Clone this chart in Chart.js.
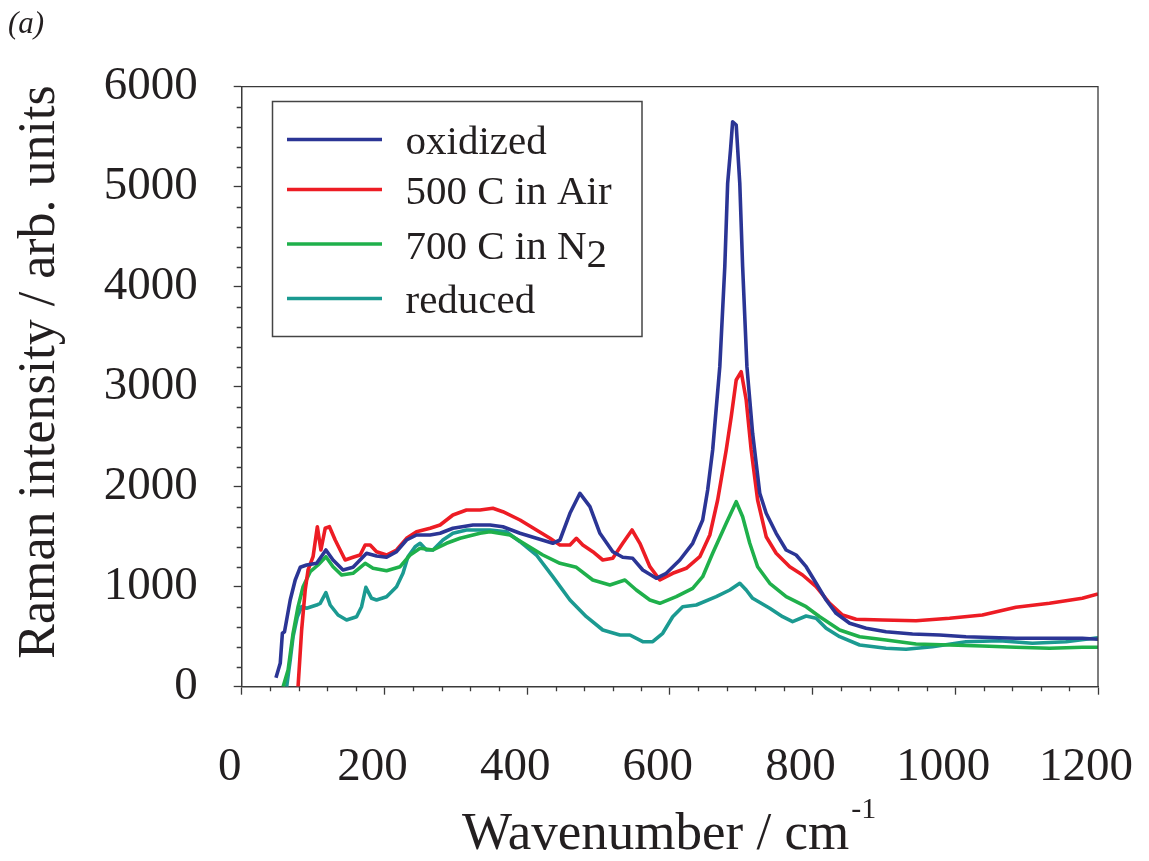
<!DOCTYPE html>
<html>
<head>
<meta charset="utf-8">
<script src="https://cdn.jsdelivr.net/npm/chart.js@4.4.1/dist/chart.umd.min.js"></script>
<style>
  html, body { margin: 0; padding: 0; background: #fff; }
  #wrap { width: 1149px; height: 861px; }
</style>
</head>
<body>
<div id="wrap"><canvas id="ramanChart" width="1149" height="861"></canvas></div>
<script>
// series names
const seriesNames = ["oxidized", "500 C in Air", "700 C in N2", "reduced"];

// oxidized
const oxidizedX = [48, 54, 57, 60, 68, 75, 82, 91, 105, 118, 128, 142, 156, 175, 189, 203, 217, 231, 245, 264, 278, 296, 324, 348, 366, 390, 413, 436, 446, 460, 474, 488, 502, 520, 534, 548, 562, 581, 595, 614, 632, 646, 653, 660, 670, 677, 681, 685, 688, 693, 698, 702, 708, 716, 726, 735, 749, 763, 777, 791, 805, 819, 833, 852, 875, 903, 940, 978, 1015, 1038, 1085, 1132, 1178, 1200];
const oxidizedY = [90, 234, 534, 550, 867, 1067, 1194, 1217, 1234, 1367, 1267, 1167, 1194, 1334, 1307, 1294, 1350, 1467, 1517, 1517, 1534, 1584, 1617, 1617, 1600, 1534, 1484, 1434, 1467, 1734, 1934, 1800, 1534, 1350, 1294, 1284, 1167, 1084, 1134, 1267, 1434, 1667, 1967, 2367, 3200, 4200, 5034, 5367, 5650, 5617, 5034, 4200, 3200, 2534, 1934, 1734, 1534, 1367, 1317, 1200, 1034, 867, 734, 634, 584, 550, 527, 517, 500, 494, 484, 484, 484, 474];

// 500 C in Air
const airX = [79, 84, 89, 93, 100, 106, 111, 117, 123, 131, 138, 145, 156, 166, 173, 180, 189, 203, 217, 231, 245, 264, 278, 296, 315, 334, 352, 366, 390, 413, 432, 446, 460, 469, 478, 492, 506, 520, 534, 547, 558, 572, 586, 604, 623, 642, 656, 667, 679, 686, 693, 700, 707, 714, 723, 735, 749, 768, 786, 805, 824, 842, 861, 898, 945, 992, 1038, 1085, 1132, 1178, 1200];
const airY = [0, 567, 967, 1167, 1300, 1600, 1367, 1584, 1600, 1467, 1367, 1267, 1294, 1317, 1417, 1417, 1350, 1317, 1367, 1484, 1550, 1584, 1617, 1717, 1767, 1767, 1784, 1750, 1667, 1567, 1484, 1417, 1417, 1484, 1417, 1350, 1267, 1284, 1434, 1567, 1434, 1200, 1067, 1134, 1184, 1300, 1517, 1867, 2367, 2700, 3067, 3150, 2867, 2367, 1867, 1500, 1334, 1200, 1117, 1000, 834, 717, 674, 667, 660, 684, 717, 794, 834, 884, 927];

// 700 C in N2
const n2X = [58, 65, 72, 79, 86, 96, 107, 118, 128, 140, 156, 173, 184, 203, 222, 236, 250, 268, 287, 306, 334, 348, 376, 399, 422, 446, 469, 492, 516, 537, 553, 572, 586, 609, 632, 646, 660, 679, 693, 702, 712, 723, 740, 763, 791, 810, 838, 866, 903, 945, 992, 1038, 1085, 1132, 1178, 1200];
const n2Y = [0, 167, 534, 800, 1000, 1150, 1217, 1300, 1200, 1117, 1134, 1234, 1184, 1160, 1200, 1317, 1384, 1367, 1434, 1484, 1534, 1550, 1517, 1417, 1317, 1234, 1194, 1067, 1017, 1067, 967, 867, 834, 900, 984, 1100, 1334, 1634, 1850, 1700, 1434, 1200, 1034, 900, 800, 700, 567, 500, 467, 427, 417, 407, 394, 384, 394, 394];

// reduced
const reducedX = [63, 68, 72, 78, 84, 91, 105, 110, 118, 124, 135, 147, 161, 168, 174, 182, 189, 203, 217, 226, 233, 243, 250, 259, 268, 282, 296, 315, 334, 348, 371, 390, 413, 436, 460, 483, 506, 530, 544, 562, 576, 590, 604, 618, 637, 665, 684, 698, 707, 716, 740, 758, 772, 791, 805, 819, 838, 866, 903, 931, 968, 1015, 1062, 1108, 1155, 1200];
const reducedY = [0, 267, 500, 700, 800, 784, 817, 834, 940, 817, 717, 667, 700, 800, 994, 884, 867, 900, 1000, 1134, 1300, 1400, 1434, 1367, 1367, 1467, 1534, 1567, 1567, 1567, 1550, 1450, 1317, 1100, 867, 700, 567, 517, 517, 450, 450, 534, 700, 800, 817, 900, 967, 1034, 967, 884, 784, 700, 650, 707, 684, 584, 500, 417, 384, 374, 400, 450, 460, 434, 450, 490];

// axis ticks
const xTicks = [0, 200, 400, 600, 800, 1000, 1200];
const yTicks = [0, 1000, 2000, 3000, 4000, 5000, 6000];

const COLORS = {
    blue: "#2b3595",
    red: "#ed1c24",
    green: "#1fb04b",
    teal: "#1b9a91",
    axis: "#3a3a3a",
    text: "#231f20",
};

const SERIF = "'Liberation Serif', 'Times New Roman', serif";

function toPoints(xs, ys) {
    return xs.map((x, i) => ({ x: x, y: ys[i] }));
}

function makeSet(label, xs, ys, color) {
    return {
        label: label,
        data: toPoints(xs, ys),
        borderColor: color,
        backgroundColor: color,
        borderWidth: 3.6,
        borderJoinStyle: "round",
        pointRadius: 0,
        tension: 0,
        fill: false,
    };
}

// minor ticks, frame, titles and boxed legend
const decorations = {
    id: "decorations",
    afterDraw(chart) {
        const { ctx, chartArea: area, scales } = chart;
        const xs = scales.x;
        const ys = scales.y;

        ctx.save();
        ctx.strokeStyle = COLORS.axis;
        ctx.lineWidth = 1.3;

        // minor ticks
        ctx.beginPath();
        for (let v = 40; v < 1200; v += 40) {
            if (v % 200 === 0) continue;
            const px = Math.round(xs.getPixelForValue(v)) + 0.5;
            ctx.moveTo(px, area.bottom);
            ctx.lineTo(px, area.bottom + 4.5);
        }
        for (let v = 200; v < 6000; v += 200) {
            if (v % 1000 === 0) continue;
            const py = Math.round(ys.getPixelForValue(v)) + 0.5;
            ctx.moveTo(area.left - 5, py);
            ctx.lineTo(area.left, py);
        }
        ctx.stroke();

        // top and right frame
        ctx.beginPath();
        ctx.moveTo(area.left, area.top);
        ctx.lineTo(area.right, area.top);
        ctx.lineTo(area.right, area.bottom);
        ctx.stroke();

        // axis titles
        ctx.fillStyle = COLORS.text;
        ctx.textBaseline = "alphabetic";
        ctx.font = "53px " + SERIF;
        ctx.textAlign = "left";
        const main = "Wavenumber / cm";
        ctx.fillText(main, 462, 849);
        const w = ctx.measureText(main).width;
        ctx.font = "30px " + SERIF;
        ctx.fillText("-1", 462 + w + 2, 818);

        ctx.save();
        ctx.translate(53.5, 372);
        ctx.rotate(-Math.PI / 2);
        ctx.font = "52px " + SERIF;
        ctx.textAlign = "center";
        ctx.fillText("Raman intensity / arb. units", 0, 0);
        ctx.restore();

        ctx.font = "italic 31px " + SERIF;
        ctx.textAlign = "left";
        ctx.fillText("(a)", 8, 33);

        // legend
        ctx.lineWidth = 1.5;
        ctx.strokeStyle = "#444";
        ctx.strokeRect(272.5, 101.5, 369.5, 235);

        const lineY = [139.5, 189.5, 244, 298.5];
        ctx.font = "41px " + SERIF;
        chart.data.datasets.forEach((ds, i) => {
            ctx.strokeStyle = ds.borderColor;
            ctx.lineWidth = 3.5;
            ctx.beginPath();
            ctx.moveTo(287, lineY[i]);
            ctx.lineTo(382, lineY[i]);
            ctx.stroke();

            const base = lineY[i] + 14.5;
            const m = ds.label.match(/^(.*N)(2)$/);
            if (m) {
                ctx.fillText(m[1], 405.5, base);
                const lw = ctx.measureText(m[1]).width;
                ctx.fillText(m[2], 405.5 + lw, base + 8);
            } else {
                ctx.fillText(ds.label, 405.5, base);
            }
        });

        ctx.restore();
    },
};

function initRamanChart() {
    const canvas = document.getElementById("ramanChart");

    if (!canvas) return;

    new Chart(canvas, {
        type: "line",

        data: {
            datasets: [
                makeSet(seriesNames[0], oxidizedX, oxidizedY, COLORS.blue),
                makeSet(seriesNames[1], airX, airY, COLORS.red),
                makeSet(seriesNames[2], n2X, n2Y, COLORS.green),
                makeSet(seriesNames[3], reducedX, reducedY, COLORS.teal),
            ],
        },

        options: {
            responsive: false,
            animation: false,
            devicePixelRatio: 1,

            layout: {
                padding: { top: 86.7, right: 51, bottom: 0, left: 0 },
            },

            plugins: {
                legend: { display: false },
                tooltip: { enabled: false },
            },

            scales: {
                x: {
                    type: "linear",
                    min: 0,
                    max: 1200,
                    afterFit: (scale) => {
                        scale.height = 861 - 686.7;
                        scale.paddingLeft = 0;
                        scale.paddingRight = 0;
                    },
                    afterBuildTicks: (scale) => {
                        scale.ticks = xTicks.map((v) => ({ value: v }));
                    },
                    border: { display: true, color: COLORS.axis, width: 1.5 },
                    grid: {
                        drawOnChartArea: false,
                        drawTicks: true,
                        tickLength: 8,
                        tickColor: COLORS.axis,
                        tickWidth: 1.3,
                    },
                    ticks: {
                        color: COLORS.text,
                        font: { family: SERIF, size: 47 },
                        padding: 45,
                        labelOffset: -12,
                        maxRotation: 0,
                        autoSkip: false,
                        callback: (value) => String(value),
                    },
                },

                y: {
                    type: "linear",
                    min: 0,
                    max: 6000,
                    afterFit: (scale) => {
                        scale.width = 241.7;
                        scale.paddingTop = 0;
                        scale.paddingBottom = 0;
                    },
                    afterBuildTicks: (scale) => {
                        scale.ticks = yTicks.map((v) => ({ value: v }));
                    },
                    border: { display: true, color: COLORS.axis, width: 1.5 },
                    grid: {
                        drawOnChartArea: false,
                        drawTicks: true,
                        tickLength: 8,
                        tickColor: COLORS.axis,
                        tickWidth: 1.3,
                    },
                    ticks: {
                        color: COLORS.text,
                        font: { family: SERIF, size: 47 },
                        padding: 36,
                        autoSkip: false,
                        callback: (value) => String(value),
                    },
                },
            },
        },

        plugins: [decorations],
    });
}

initRamanChart();
</script>
</body>
</html>
